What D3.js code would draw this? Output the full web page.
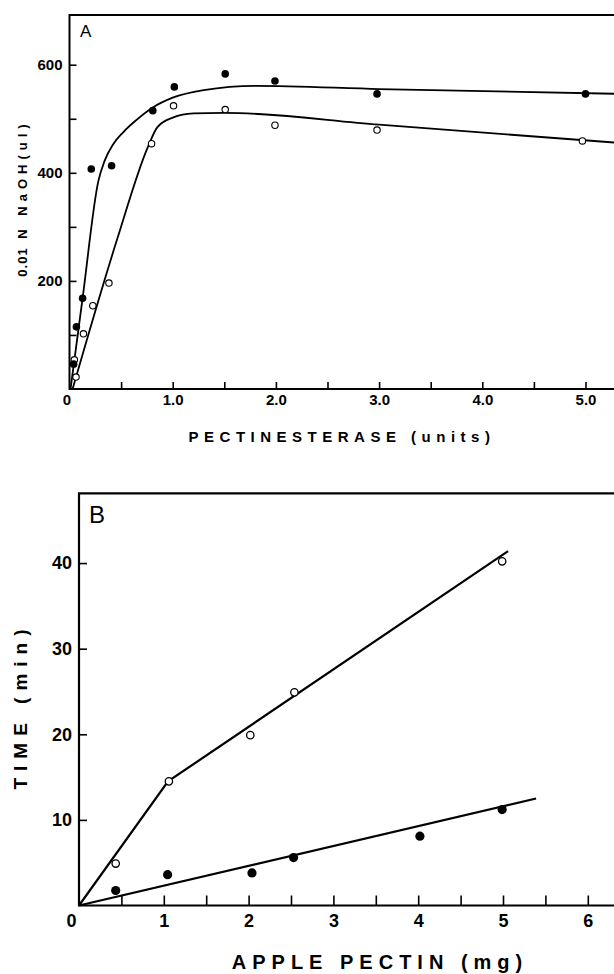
<!DOCTYPE html>
<html>
<head>
<meta charset="utf-8">
<script src="https://cdn.jsdelivr.net/npm/d3@7"></script>
<style>
  html, body { margin: 0; padding: 0; background: #fff; }
  svg { display: block; }
  text { font-family: "Liberation Sans", Arial, Helvetica, sans-serif; fill: #000; }
  .tick line { stroke: #000; stroke-width: 1.6; }
  .tick text { font-weight: bold; }
</style>
</head>
<body>
<div id="chart"></div>
<script>
/**
 * DATA
 * */
// panel A - pectinesterase units vs 0.01N NaOH (ul)
const aFilledX = [0.04, 0.067, 0.127, 0.211, 0.408, 0.807, 1.016, 1.509, 1.991, 2.98, 5.0];
const aFilledY = [46, 115, 168, 407, 413, 515, 559, 583, 570, 546, 546];
const aOpenX = [0.047, 0.063, 0.135, 0.226, 0.382, 0.795, 1.008, 1.509, 1.991, 2.98, 4.97];
const aOpenY = [54, 22, 102, 154, 196, 454, 524, 517, 488, 479, 459];
// fitted curves drawn by hand in the original
const aFilledCurveX = [0.01, 0.127, 0.28, 0.34, 0.42, 0.52, 0.65, 0.8, 1.0, 1.3, 1.8, 3.0, 5.35];
const aFilledCurveY = [0, 168, 385, 422, 452, 475, 498, 520, 539, 553, 561, 555, 546];
const aOpenCurveX = [0.03, 0.46, 0.76, 0.85, 1.0, 1.2, 1.5, 3.0, 5.35];
const aOpenCurveY = [0, 276, 448, 484, 502, 510, 511, 489, 455];
const aXTicks = [0.5, 1, 1.5, 2, 2.5, 3, 3.5, 4, 4.5, 5];
const aXLabels = { 0: "0", 1: "1.0", 2: "2.0", 3: "3.0", 4: "4.0", 5: "5.0" };
const aYTicks = [100, 200, 300, 400, 500, 600];
const aYLabels = { 200: "200", 400: "400", 600: "600" };

// panel B - apple pectin (mg) vs time (min)
const bOpenX = [0.433, 1.06, 2.02, 2.54, 4.99];
const bOpenY = [4.9, 14.5, 19.9, 24.9, 40.2];
const bFilledX = [0.433, 1.045, 2.04, 2.53, 4.02, 4.99];
const bFilledY = [1.75, 3.6, 3.8, 5.6, 8.1, 11.2];
const bOpenLineX = [0, 1.05, 5.06];
const bOpenLineY = [0, 14.5, 41.4];
const bFilledLineX = [0, 5.39];
const bFilledLineY = [0, 12.5];
const bXTicks = [0.5, 1, 1.5, 2, 2.5, 3, 3.5, 4, 4.5, 5, 5.5, 6];
const bXLabels = { 0: "0", 1: "1", 2: "2", 3: "3", 4: "4", 5: "5", 6: "6" };
const bYTicks = [10, 20, 30, 40];

/**
 * CONSTANTS
 * */
const width = 614, height = 974;
const zip = (xs, ys) => xs.map((x, i) => [x, ys[i]]);

const svg = d3.select("#chart").append("svg")
  .attr("width", width)
  .attr("height", height);

/**
 * PANEL A
 * */
const xA = d3.scaleLinear().domain([0, 5.35]).range([69.5, 69.5 + 5.35 * 103.2]);
const yA = d3.scaleLinear().domain([0, 692]).range([389, 15]);

const gA = svg.append("g");

// frame: left, bottom, top (right side runs off the page)
gA.append("path")
  .attr("d", `M${xA(5.35)},${yA(692)} H${xA(0)} V${yA(0)} H${xA(5.35)}`)
  .attr("fill", "none").attr("stroke", "#000").attr("stroke-width", 2);

gA.append("g")
  .attr("transform", `translate(0,${yA(0)})`)
  .call(d3.axisBottom(xA).tickValues([0].concat(aXTicks)).tickSize(-7).tickSizeOuter(0).tickPadding(5)
    .tickFormat(d => aXLabels[d] || ""))
  .call(g => g.select(".domain").remove())
  .call(g => g.selectAll(".tick text").attr("font-size", 15))
  .call(g => g.selectAll(".tick").filter(d => d === 0).select("line").remove())
  .call(g => g.selectAll(".tick").filter(d => d === 0).select("text").attr("dx", -3));

gA.append("g")
  .attr("transform", `translate(${xA(0)},0)`)
  .call(d3.axisLeft(yA).tickValues(aYTicks).tickSize(-7).tickSizeOuter(0).tickPadding(7)
    .tickFormat(d => aYLabels[d] || ""))
  .call(g => g.select(".domain").remove())
  .call(g => g.selectAll(".tick text").attr("font-size", 15));

const lineA = d3.line().x(d => xA(d[0])).y(d => yA(d[1])).curve(d3.curveMonotoneX);

gA.append("path").attr("d", lineA(zip(aFilledCurveX, aFilledCurveY)))
  .attr("fill", "none").attr("stroke", "#000").attr("stroke-width", 1.8);
gA.append("path").attr("d", lineA(zip(aOpenCurveX, aOpenCurveY)))
  .attr("fill", "none").attr("stroke", "#000").attr("stroke-width", 1.8);

gA.selectAll("circle.open").data(zip(aOpenX, aOpenY)).join("circle")
  .attr("class", "open")
  .attr("cx", d => xA(d[0])).attr("cy", d => yA(d[1])).attr("r", 3.2)
  .attr("fill", "#fff").attr("stroke", "#000").attr("stroke-width", 1.1);
gA.selectAll("circle.filled").data(zip(aFilledX, aFilledY)).join("circle")
  .attr("class", "filled")
  .attr("cx", d => xA(d[0])).attr("cy", d => yA(d[1])).attr("r", 3.8)
  .attr("fill", "#000");

gA.append("text").attr("x", 80).attr("y", 37).attr("font-size", 17).text("A");

gA.append("text")
  .attr("x", 342).attr("y", 442)
  .attr("text-anchor", "middle")
  .attr("font-size", 15).attr("font-weight", "bold").attr("letter-spacing", 5.5)
  .text("PECTINESTERASE (units)");

// y label: digits set tight, the rest spaced out
const yLabA = gA.append("text")
  .attr("transform", "translate(27,198) rotate(-90)")
  .attr("text-anchor", "middle")
  .attr("font-size", 13).attr("font-weight", "bold");
yLabA.append("tspan").attr("letter-spacing", 1).text("0.01");
yLabA.append("tspan").attr("letter-spacing", 5).text(" N NaOH(ul)");

/**
 * PANEL B
 * */
const xB = d3.scaleLinear().domain([0, 7.4]).range([79, 79 + 7.4 * 84.8]);
const yB = d3.scaleLinear().domain([0, 48.15]).range([905.5, 493.3]);

const gB = svg.append("g");

gB.append("path")
  .attr("d", `M${xB(7.4)},${yB(48.15)} H${xB(0)} V${yB(0)} H${xB(7.4)}`)
  .attr("fill", "none").attr("stroke", "#000").attr("stroke-width", 2.2);

gB.append("g")
  .attr("transform", `translate(0,${yB(0)})`)
  .call(d3.axisBottom(xB).tickValues([0].concat(bXTicks)).tickSize(-10).tickSizeOuter(0).tickPadding(9)
    .tickFormat(d => bXLabels[d] || ""))
  .call(g => g.select(".domain").remove())
  .call(g => g.selectAll(".tick text").attr("font-size", 18))
  .call(g => g.selectAll(".tick line").attr("stroke-width", 2))
  .call(g => g.selectAll(".tick").filter(d => d === 0).select("line").remove())
  .call(g => g.selectAll(".tick").filter(d => d === 0).select("text").attr("dx", -8));

gB.append("g")
  .attr("transform", `translate(${xB(0)},0)`)
  .call(d3.axisLeft(yB).tickValues(bYTicks).tickSize(-8).tickSizeOuter(0).tickPadding(7))
  .call(g => g.select(".domain").remove())
  .call(g => g.selectAll(".tick text").attr("font-size", 18))
  .call(g => g.selectAll(".tick line").attr("stroke-width", 2));

const lineB = d3.line().x(d => xB(d[0])).y(d => yB(d[1]));

gB.append("path").attr("d", lineB(zip(bOpenLineX, bOpenLineY)))
  .attr("fill", "none").attr("stroke", "#000").attr("stroke-width", 2.2);
gB.append("path").attr("d", lineB(zip(bFilledLineX, bFilledLineY)))
  .attr("fill", "none").attr("stroke", "#000").attr("stroke-width", 2.2);

gB.selectAll("circle.open").data(zip(bOpenX, bOpenY)).join("circle")
  .attr("class", "open")
  .attr("cx", d => xB(d[0])).attr("cy", d => yB(d[1])).attr("r", 3.7)
  .attr("fill", "#fff").attr("stroke", "#000").attr("stroke-width", 1.3);
gB.selectAll("circle.filled").data(zip(bFilledX, bFilledY)).join("circle")
  .attr("class", "filled")
  .attr("cx", d => xB(d[0])).attr("cy", d => yB(d[1])).attr("r", 4.6)
  .attr("fill", "#000");

gB.append("text").attr("x", 89).attr("y", 523).attr("font-size", 24).text("B");

gB.append("text")
  .attr("x", 380).attr("y", 969)
  .attr("text-anchor", "middle")
  .attr("font-size", 20).attr("font-weight", "bold").attr("letter-spacing", 6)
  .text("APPLE PECTIN (mg)");

gB.append("text")
  .attr("transform", "translate(27,706) rotate(-90)")
  .attr("text-anchor", "middle")
  .attr("font-size", 19).attr("font-weight", "bold").attr("letter-spacing", 7)
  .text("TIME (min)");
</script>
</body>
</html>
